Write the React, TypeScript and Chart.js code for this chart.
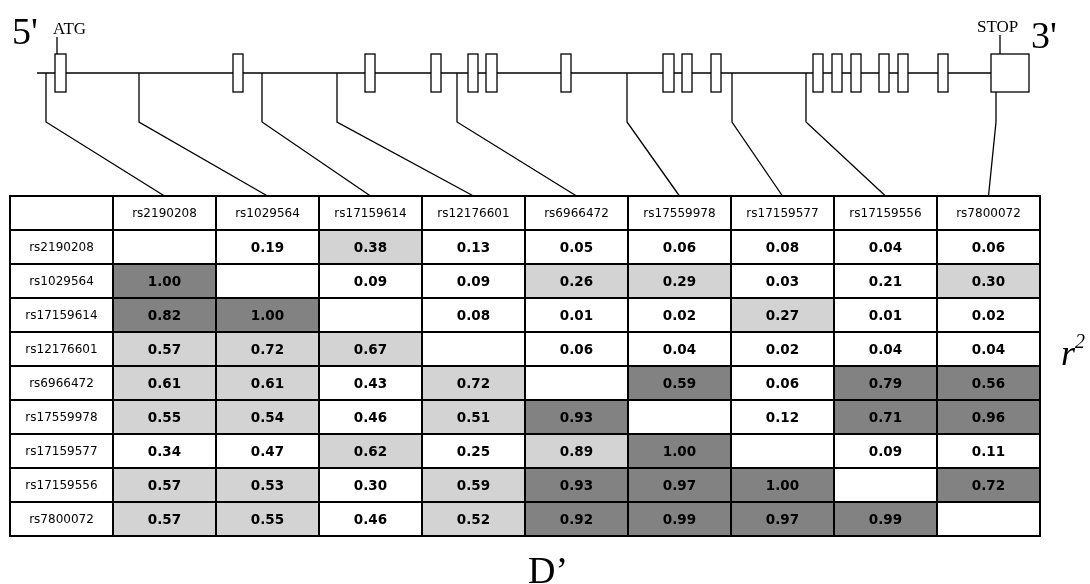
import React, { useEffect, useRef } from "react";
import { Chart, registerables } from "chart.js";

Chart.register(...registerables);

// ---------- DATA ----------
const snps = [
  "rs2190208",
  "rs1029564",
  "rs17159614",
  "rs12176601",
  "rs6966472",
  "rs17559978",
  "rs17159577",
  "rs17159556",
  "rs7800072",
];

// upper triangle: r^2, lower triangle: D'
const ldMatrix: (number | null)[][] = [
  [null, 0.19, 0.38, 0.13, 0.05, 0.06, 0.08, 0.04, 0.06],
  [1.0, null, 0.09, 0.09, 0.26, 0.29, 0.03, 0.21, 0.3],
  [0.82, 1.0, null, 0.08, 0.01, 0.02, 0.27, 0.01, 0.02],
  [0.57, 0.72, 0.67, null, 0.06, 0.04, 0.02, 0.04, 0.04],
  [0.61, 0.61, 0.43, 0.72, null, 0.59, 0.06, 0.79, 0.56],
  [0.55, 0.54, 0.46, 0.51, 0.93, null, 0.12, 0.71, 0.96],
  [0.34, 0.47, 0.62, 0.25, 0.89, 1.0, null, 0.09, 0.11],
  [0.57, 0.53, 0.3, 0.59, 0.93, 0.97, 1.0, null, 0.72],
  [0.57, 0.55, 0.46, 0.52, 0.92, 0.99, 0.97, 0.99, null],
];

// shading level per cell: 0 none, 1 light, 2 dark
const shadeMatrix: number[][] = [
  [0, 0, 1, 0, 0, 0, 0, 0, 0],
  [2, 0, 0, 0, 1, 1, 0, 0, 1],
  [2, 2, 0, 0, 0, 0, 1, 0, 0],
  [1, 1, 1, 0, 0, 0, 0, 0, 0],
  [1, 1, 0, 1, 0, 2, 0, 2, 2],
  [1, 1, 0, 1, 2, 0, 0, 2, 2],
  [0, 0, 1, 0, 1, 2, 0, 0, 0],
  [1, 1, 0, 1, 2, 2, 2, 0, 2],
  [1, 1, 0, 1, 2, 2, 2, 2, 0],
];

// table column widths (one label column + one per SNP), in column units
const columnWidths = [1, 1, 1, 1, 1, 1, 1, 1, 1, 1];

// gene structure (relative genomic units)
const geneStart = 27;
const geneEnd = 981;
const exonStarts = [45, 223, 355, 421, 458, 476, 551, 653, 672, 701, 803, 822, 841, 869, 888, 928, 981];
const exonEnds = [56, 233, 365, 431, 468, 487, 561, 664, 682, 711, 813, 832, 851, 879, 898, 938, 1019];
const snpPositions = [36, 129, 252, 327, 447, 617, 722, 796, 986];

// ---------- STYLE ----------
const SHADES = ["#ffffff", "#d3d3d3", "#828282"];
const GENE_Y = 73;
const EXON_TOP = 54;
const EXON_BOTTOM = 92;
const KNEE_Y = 122;

const rowLabels = ["", ...snps];

function cellColor(row: number, col: number) {
  if (row === 0 || col === 0) return SHADES[0];
  return SHADES[shadeMatrix[row - 1][col - 1]];
}

const tablePlugin = {
  id: "ldTable",
  beforeDraw(chart: any) {
    const ctx = chart.ctx;
    ctx.save();
    ctx.fillStyle = "#ffffff";
    ctx.fillRect(0, 0, chart.width, chart.height);
    ctx.restore();
  },
  afterDatasetsDraw(chart: any) {
    const ctx = chart.ctx;
    const area = chart.chartArea;
    const gx = chart.scales.gx;
    const xs = chart.scales.x;
    const P = (v: number) => gx.getPixelForValue(v);
    ctx.save();

    // outer frame
    ctx.strokeStyle = "#000";
    ctx.lineWidth = 2;
    ctx.strokeRect(area.left, area.top, area.right - area.left, area.bottom - area.top);

    // cell texts
    ctx.textAlign = "center";
    ctx.textBaseline = "middle";
    ctx.fillStyle = "#000";
    chart.data.datasets.forEach((ds: any, col: number) => {
      const meta = chart.getDatasetMeta(col);
      meta.data.forEach((el: any, row: number) => {
        const cx = (el.x + el.base) / 2;
        const cy = el.y + 1;
        let text = "";
        let bold = false;
        if (row === 0 && col > 0) text = snps[col - 1];
        else if (col === 0 && row > 0) text = snps[row - 1];
        else if (row > 0 && col > 0) {
          const v = ldMatrix[row - 1][col - 1];
          if (v !== null) {
            text = v.toFixed(2);
            bold = true;
          }
        }
        if (!text) return;
        ctx.font = bold ? "bold 13.5px 'DejaVu Sans'" : "12px 'DejaVu Sans'";
        ctx.fillText(text, cx, cy);
      });
    });

    // gene structure
    ctx.strokeStyle = "#000";
    ctx.lineWidth = 1.3;
    // connectors
    snpPositions.forEach((p, i) => {
      let startY = GENE_Y;
      exonStarts.forEach((s, k) => {
        if (p >= s && p <= exonEnds[k]) startY = EXON_BOTTOM;
      });
      const sumBefore = columnWidths.slice(0, i + 1).reduce((a, b) => a + b, 0);
      const colCenter = xs.getPixelForValue(sumBefore + columnWidths[i + 1] / 2);
      ctx.beginPath();
      ctx.moveTo(P(p), startY);
      ctx.lineTo(P(p), KNEE_Y);
      ctx.lineTo(colCenter, area.top);
      ctx.stroke();
    });
    // backbone
    ctx.beginPath();
    ctx.moveTo(P(geneStart), GENE_Y);
    ctx.lineTo(P(geneEnd), GENE_Y);
    ctx.stroke();
    // exons
    exonStarts.forEach((s, k) => {
      const x0 = P(s);
      const x1 = P(exonEnds[k]);
      ctx.fillStyle = "#fff";
      ctx.fillRect(x0, EXON_TOP, x1 - x0, EXON_BOTTOM - EXON_TOP);
      ctx.strokeRect(x0, EXON_TOP, x1 - x0, EXON_BOTTOM - EXON_TOP);
    });
    // ATG / STOP ticks
    const atgX = P(exonStarts[0]) + 2;
    ctx.beginPath();
    ctx.moveTo(atgX, 37);
    ctx.lineTo(atgX, EXON_TOP);
    const last = exonStarts.length - 1;
    const stopX = P(exonStarts[last]) + 9;
    ctx.moveTo(stopX, 35);
    ctx.lineTo(stopX, EXON_TOP);
    ctx.stroke();

    ctx.fillStyle = "#000";
    ctx.textAlign = "left";
    ctx.textBaseline = "alphabetic";
    ctx.font = "17px 'Liberation Serif'";
    ctx.fillText("ATG", 53, 34);
    ctx.fillText("STOP", 977, 32);
    ctx.font = "38px 'Liberation Serif'";
    ctx.fillText("5'", 12, 44);
    ctx.fillText("3'", 1031, 48);

    // r^2 and D'
    ctx.font = "italic 36px 'Liberation Serif'";
    ctx.fillText("r", 1061, 365);
    ctx.font = "italic 20px 'Liberation Serif'";
    ctx.fillText("2", 1075, 348);
    ctx.font = "38px 'Liberation Serif'";
    ctx.fillText("D\u2019", 528, 583);

    ctx.restore();
  },
};

export default function App() {
  const ref = useRef<HTMLCanvasElement | null>(null);
  useEffect(() => {
    document.body.style.margin = "0";
    if (!ref.current) return;
    const totalCols = columnWidths.reduce((a, b) => a + b, 0);
    const datasets = columnWidths.map((w, col) => ({
      label: col === 0 ? "SNP" : snps[col - 1],
      data: rowLabels.map(() => w),
      backgroundColor: (c: any) => cellColor(c.dataIndex, col),
      borderColor: "#000",
      borderWidth: 1,
      borderSkipped: false as const,
      inflateAmount: 0,
      barPercentage: 1,
      categoryPercentage: 1,
    }));
    const chart = new Chart(ref.current, {
      type: "bar",
      data: { labels: rowLabels, datasets },
      options: {
        indexAxis: "y",
        animation: false,
        responsive: false,
        layout: { padding: { left: 10, right: 50, top: 196, bottom: 48 } },
        plugins: { legend: { display: false }, tooltip: { enabled: false } },
        events: [],
        scales: {
          x: { type: "linear", stacked: true, min: 0, max: totalCols, display: false },
          y: { type: "category", stacked: true, display: false },
          gx: { type: "linear", axis: "x", position: "top", min: 0, max: 1030, display: false },
        },
      },
      plugins: [tablePlugin],
    });
    return () => chart.destroy();
  }, []);
  return (
    <div style={{ position: "absolute", left: 0, top: 0, width: 1090, height: 584 }}>
      <canvas ref={ref} width={1090} height={584} style={{ width: 1090, height: 584 }} />
    </div>
  );
}
